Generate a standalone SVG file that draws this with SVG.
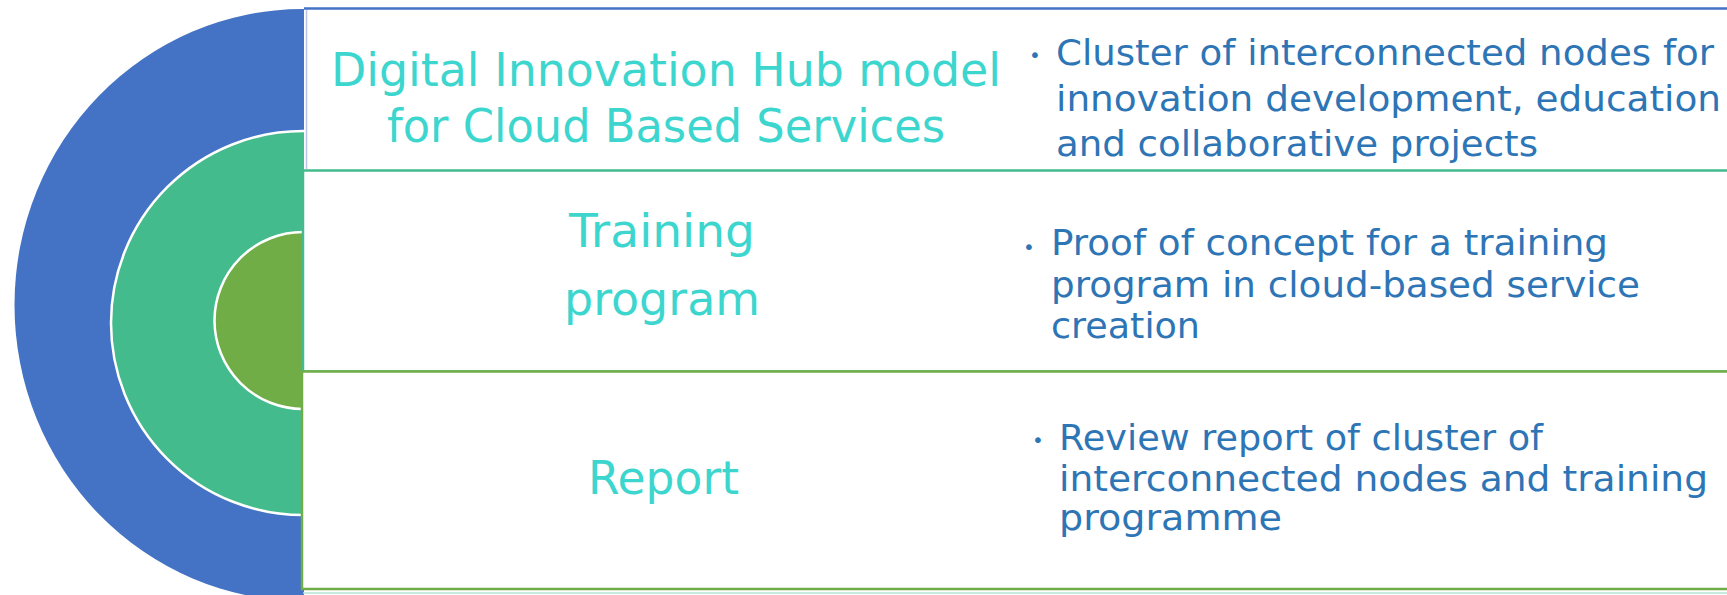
<svg xmlns="http://www.w3.org/2000/svg" width="1727" height="595" viewBox="0 0 1727 595">
  <style>
    .title { font-family: "DejaVu Sans", "Liberation Sans", sans-serif; font-size: 46px; fill: #3DD6CF; }
    .body { font-family: "DejaVu Sans", "Liberation Sans", sans-serif; font-size: 35px; fill: #2E75B6; }
    .bullet { font-family: "DejaVu Sans", "Liberation Sans", sans-serif; font-size: 20px; fill: #2E75B6; text-anchor: middle; }
    .ring { stroke: #FFFFFF; stroke-width: 2.5; }
    .box { fill: #FFFFFF; }
  </style>
  <defs>
    <clipPath id="leftHalf">
      <rect x="0" y="0" width="304" height="595"/>
    </clipPath>
  </defs>
  <rect x="0" y="0" width="1727" height="595" fill="#FFFFFF"/>

  <g id="rings" clip-path="url(#leftHalf)">
    <ellipse id="ring-outer" cx="303" cy="305" rx="288.5" ry="296" fill="#4472C4"/>
    <circle id="ring-middle" class="ring" cx="303" cy="323" r="192" fill="#44BB8C"/>
    <circle id="ring-inner" class="ring" cx="303" cy="320.5" r="88.5" fill="#70AD47"/>
  </g>

  <g id="connectors"/>

  <g id="row-hub">
    <rect class="box" x="305" y="8.5" width="1430" height="162"/>
    <line x1="304" y1="8.5" x2="1727" y2="8.5" stroke="#4472C4" stroke-width="2.5"/>
    <line x1="306.5" y1="10" x2="306.5" y2="169" stroke="#B4C7E7" stroke-width="1.5"/>
    <text class="title" x="331" y="86" textLength="670" lengthAdjust="spacingAndGlyphs">Digital Innovation Hub model</text>
    <text class="title" x="387" y="142" textLength="558" lengthAdjust="spacingAndGlyphs">for Cloud Based Services</text>
    <text class="bullet" x="1035" y="62">•</text>
    <text class="body" x="1056" y="65" textLength="658" lengthAdjust="spacingAndGlyphs">Cluster of interconnected nodes for</text>
    <text class="body" x="1056" y="110.5" textLength="665" lengthAdjust="spacingAndGlyphs">innovation development, education</text>
    <text class="body" x="1056" y="156" textLength="482" lengthAdjust="spacingAndGlyphs">and collaborative projects</text>
  </g>

  <g id="row-training">
    <rect class="box" x="303" y="170.5" width="1430" height="201" stroke="#44BB8C" stroke-width="2.5"/>
    <text class="title" x="569" y="247" textLength="186" lengthAdjust="spacingAndGlyphs">Training</text>
    <text class="title" x="564" y="315" textLength="196" lengthAdjust="spacingAndGlyphs">program</text>
    <text class="bullet" x="1029" y="254">•</text>
    <text class="body" x="1051" y="255" textLength="557" lengthAdjust="spacingAndGlyphs">Proof of concept for a training</text>
    <text class="body" x="1051" y="296.5" textLength="589" lengthAdjust="spacingAndGlyphs">program in cloud-based service</text>
    <text class="body" x="1051" y="338" textLength="149" lengthAdjust="spacingAndGlyphs">creation</text>
  </g>

  <g id="row-report">
    <rect class="box" x="302" y="371.5" width="1430" height="217.5" stroke="#70AD47" stroke-width="2.5"/>
    <line x1="303" y1="593" x2="1727" y2="593" stroke="#B3E4D3" stroke-width="1.5"/>
    <text class="title" x="588" y="494" textLength="151" lengthAdjust="spacingAndGlyphs">Report</text>
    <text class="bullet" x="1038" y="447">•</text>
    <text class="body" x="1059" y="450" textLength="484" lengthAdjust="spacingAndGlyphs">Review report of cluster of</text>
    <text class="body" x="1059" y="490.5" textLength="649" lengthAdjust="spacingAndGlyphs">interconnected nodes and training</text>
    <text class="body" x="1059" y="530" textLength="223" lengthAdjust="spacingAndGlyphs">programme</text>
  </g>
</svg>
